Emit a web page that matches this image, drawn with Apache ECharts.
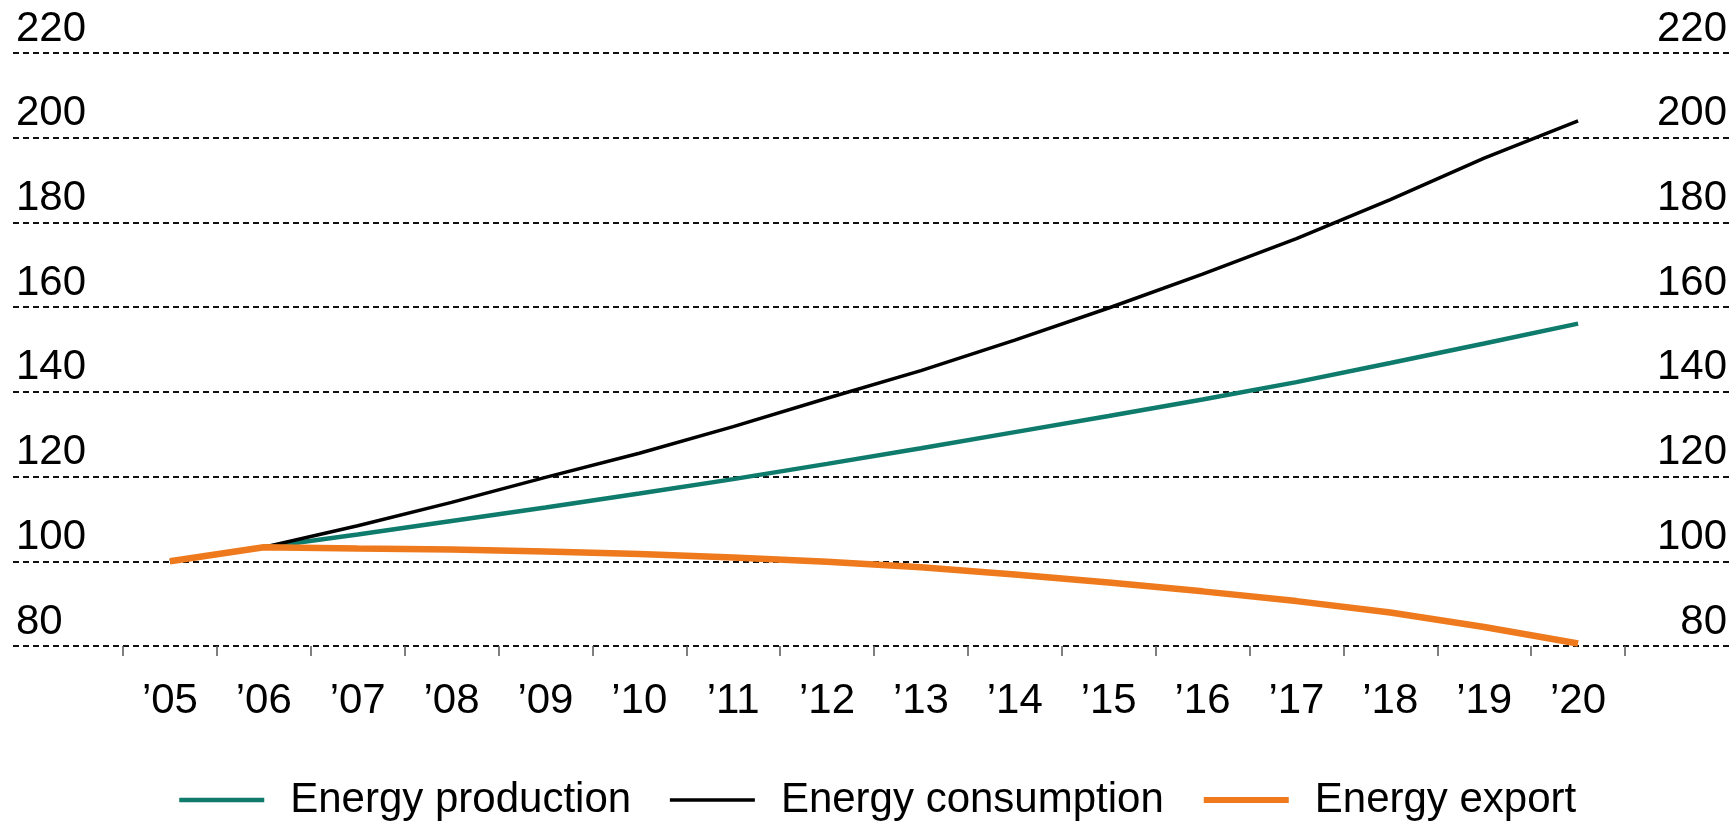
<!DOCTYPE html>
<html>
<head>
<meta charset="utf-8">
<title>Energy production, consumption and export</title>
<script src="https://cdn.jsdelivr.net/npm/echarts@6/dist/echarts.min.js"></script>
<style>
  html, body { margin: 0; padding: 0; background: #ffffff; }
  #chart { width: 1732px; height: 825px; }
</style>
</head>
<body>
<div id="chart"></div>
<script>
// Index, 2005 = 100
const years = ['\u201905', '\u201906', '\u201907', '\u201908', '\u201909', '\u201910', '\u201911', '\u201912',
               '\u201913', '\u201914', '\u201915', '\u201916', '\u201917', '\u201918', '\u201919', '\u201920'];
const production  = [100, 103.3, 106.3, 109.5, 112.7, 116.0, 119.4, 123.0, 126.7, 130.5, 134.3, 138.2, 142.3, 146.8, 151.4, 156.1];
const consumption = [100, 103.3, 108.4, 113.9, 119.8, 125.5, 131.8, 138.5, 145.0, 152.2, 159.8, 167.8, 176.2, 185.4, 195.2, 204.0];
const exportIdx   = [100, 103.3, 103.0, 102.8, 102.3, 101.7, 100.9, 99.9, 98.6, 96.9, 95.0, 92.9, 90.6, 87.9, 84.5, 80.6];
const yMin = 80, yMax = 220, yStep = 20;

const FONT = '"Liberation Sans", Arial, sans-serif';
const TEAL = '#0e7b6c', ORANGE = '#ee7a1d', BLACK = '#000000';

const chart = echarts.init(document.getElementById('chart'), null, { renderer: 'canvas' });

const valueLabel = (align) => ({
  show: true,
  inside: true,
  align: align,
  verticalAlign: 'bottom',
  margin: 3,
  fontFamily: FONT,
  fontSize: 42,
  lineHeight: 42,
  color: '#000',
  padding: [0, 0, 3, 0]
});

chart.setOption({
  animation: false,
  backgroundColor: '#ffffff',
  grid: [
    // full-width frame carrying the dashed gridlines and both value scales
    { left: 13, right: 2, top: 53, height: 593, containLabel: false },
    // plot area for the series
    { left: 123, right: 107, top: 53, height: 593, containLabel: false }
  ],
  xAxis: [
    { gridIndex: 0, type: 'value', min: 0, max: 1, show: false },
    {
      gridIndex: 1,
      type: 'category',
      data: years,
      boundaryGap: true,
      axisLine: { show: false },
      axisTick: { show: true, length: 10, lineStyle: { color: '#555', width: 1.5 } },
      axisLabel: { fontFamily: FONT, fontSize: 42, lineHeight: 42, color: '#000', margin: 34, interval: 0 },
      splitLine: { show: false }
    }
  ],
  yAxis: [
    {
      gridIndex: 0, type: 'value', position: 'left',
      min: yMin, max: yMax, interval: yStep,
      axisLine: { show: false }, axisTick: { show: false },
      axisLabel: valueLabel('left'),
      splitLine: { show: true, lineStyle: { color: '#111', width: 2, type: [6, 4] } }
    },
    {
      gridIndex: 0, type: 'value', position: 'right',
      min: yMin, max: yMax, interval: yStep,
      axisLine: { show: false }, axisTick: { show: false },
      axisLabel: valueLabel('right'),
      splitLine: { show: false }
    },
    {
      gridIndex: 1, type: 'value',
      min: yMin, max: yMax, interval: yStep,
      show: false
    }
  ],
  legend: {
    bottom: 4,
    left: 177,
    padding: 0,
    itemWidth: 85,
    itemHeight: 14,
    itemGap: 37,
    itemStyle: { opacity: 0 },
    textStyle: { fontFamily: FONT, fontSize: 42, lineHeight: 42, color: '#000', padding: [0, 0, 0, 21] },
    data: [
      { name: 'Energy production', lineStyle: { width: 4.5 } },
      { name: 'Energy consumption', lineStyle: { width: 3.5 } },
      { name: 'Energy export', lineStyle: { width: 6 } }
    ]
  },
  series: [
    {
      name: 'Energy production', type: 'line', xAxisIndex: 1, yAxisIndex: 2,
      data: production, symbol: 'none', smooth: false,
      lineStyle: { color: TEAL, width: 4.5 }, itemStyle: { color: TEAL }, z: 2
    },
    {
      name: 'Energy consumption', type: 'line', xAxisIndex: 1, yAxisIndex: 2,
      data: consumption, symbol: 'none', smooth: false,
      lineStyle: { color: BLACK, width: 3.5 }, itemStyle: { color: BLACK }, z: 3
    },
    {
      name: 'Energy export', type: 'line', xAxisIndex: 1, yAxisIndex: 2,
      data: exportIdx, symbol: 'none', smooth: false,
      lineStyle: { color: ORANGE, width: 6.5 }, itemStyle: { color: ORANGE }, z: 4
    }
  ]
});
</script>
</body>
</html>
